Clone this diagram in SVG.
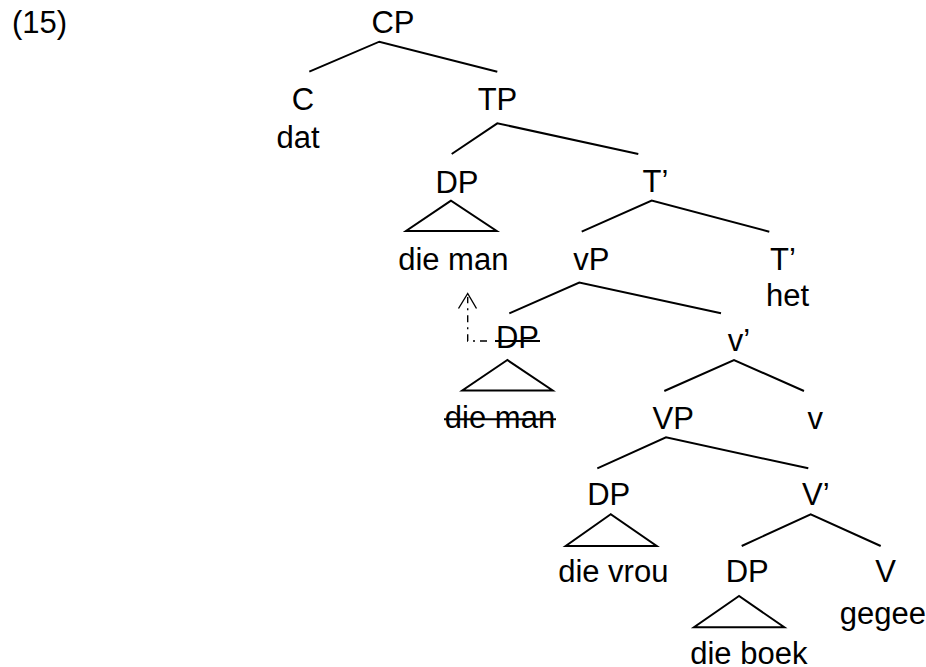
<svg xmlns="http://www.w3.org/2000/svg" width="926" height="667" viewBox="0 0 926 667">
<style>
text{font-family:"Liberation Sans",Arial,sans-serif;font-size:31px;fill:#000;text-anchor:middle}
.br{fill:none;stroke:#000;stroke-width:2;stroke-linejoin:miter}
.tri{fill:none;stroke:#000;stroke-width:2}
.strike{stroke:#000;stroke-width:2}
.mv{fill:none;stroke:#000;stroke-width:1.4;stroke-dasharray:7 5 2 5}
.ah{fill:none;stroke:#000;stroke-width:1.4}
</style>
<rect width="926" height="667" fill="#fff"/>
<text x="12" y="33" style="text-anchor:start">(15)</text>
<g id="connectors">
<polyline class="br" points="309.3,71.7 379.3,41.7 497.3,71.7"/>
<polyline class="br" points="451.7,154 497.3,123.3 638.3,154"/>
<polyline class="br" points="581.7,231.7 651.7,200.5 769.3,231.7"/>
<polyline class="br" points="509.3,313.3 579.3,282.5 721,313.3"/>
<polyline class="br" points="664.3,391 734,360 804,391"/>
<polyline class="br" points="597.3,468.3 666,437.3 808.3,468.3"/>
<polyline class="br" points="741.7,546 810.7,514.3 880.7,546"/>
<path class="mv" d="M487,341 H467.7 V297"/>
<polyline class="ah" points="458.5,308.5 467.7,293.5 476.5,308.5"/>
</g>
<g id="CP"><text x="393" y="33">CP</text></g>
<g id="C"><text x="303" y="110">C</text><text x="298" y="148">dat</text></g>
<g id="TP"><text x="497.5" y="110">TP</text></g>
<g id="DP1"><text x="457" y="192.7">DP</text><polygon class="tri" points="451,200.7 406,231 496.7,231"/><text x="453.3" y="270">die man</text></g>
<g id="Tbar"><text x="655.5" y="191.5">T’</text></g>
<g id="vP"><text x="591.3" y="270">vP</text></g>
<g id="T"><text x="783" y="269.5">T’</text><text x="787.5" y="305.5">het</text></g>
<g id="DP2"><text x="517.5" y="348.3">DP</text><line class="strike" x1="495" y1="341" x2="540" y2="341"/><polygon class="tri" points="507.3,360 462.3,390.5 552.7,390.5"/><text x="500" y="428.3">die man</text><line class="strike" x1="444" y1="419.3" x2="556" y2="419.3"/></g>
<g id="vbar"><text x="739" y="350.5">v’</text></g>
<g id="VP"><text x="673.3" y="429">VP</text></g>
<g id="v"><text x="815.3" y="429">v</text></g>
<g id="DP3"><text x="608.7" y="505">DP</text><polygon class="tri" points="610.7,514.3 565.7,546 656.7,546"/><text x="613.3" y="581.7">die vrou</text></g>
<g id="Vbar"><text x="815.8" y="505">V’</text></g>
<g id="DP4"><text x="747.2" y="581.7">DP</text><polygon class="tri" points="739,596 694,627.3 784.3,627.3"/><text x="748.8" y="663.5">die boek</text></g>
<g id="V"><text x="885.5" y="581.7">V</text><text x="882.8" y="624">gegee</text></g>
</svg>
